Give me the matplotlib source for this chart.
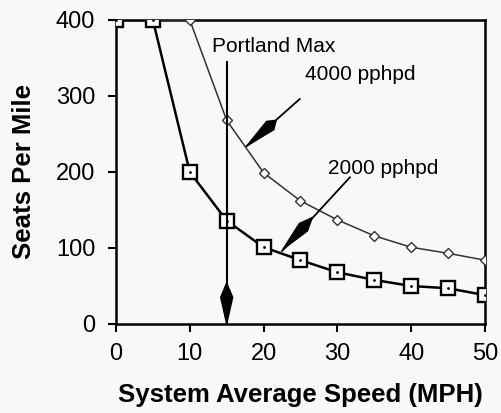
import matplotlib.pyplot as plt
from matplotlib.patches import Polygon

speed = [0, 5, 10, 15, 20, 25, 30, 35, 40, 45, 50]
seats_2000 = [400, 400, 200, 136, 101, 84, 68, 58, 50, 47, 38]
seats_4000 = [400, 400, 400, 268, 199, 162, 137, 116, 101, 93, 84]
portland_max = 15

bg = '#f7f8f7'
plt.rcParams['font.family'] = ['Liberation Sans', 'DejaVu Sans']

fig = plt.figure(figsize=(5.01, 4.13), dpi=100, facecolor=bg)
ax = fig.add_axes([0.2315, 0.2155, 0.7365, 0.7361], facecolor=bg)

ax.plot(speed, seats_4000, color='#333333', lw=1.1, ls='-', marker='D', ms=5.5,
        mfc='white', mec='#333333', mew=1.0, zorder=3)
ax.plot(speed, seats_2000, color='black', lw=1.8, marker='s', ms=10,
        mfc='white', mec='black', mew=1.7, zorder=4)
ax.plot(speed, seats_2000, ls='none', marker='.', ms=2, color='black', zorder=5)

ax.set_xlim(0, 50)
ax.set_ylim(0, 400)
ax.set_xticks(range(0, 51, 10))
ax.set_yticks(range(0, 401, 100))
ax.tick_params(direction='out', length=6, width=1.5, labelsize=17)
ax.tick_params(axis='x', pad=8)
ax.tick_params(axis='y', pad=9)
for s in ax.spines.values():
    s.set_linewidth(1.8)

ax.set_xlabel('System Average Speed (MPH)', fontsize=18.5, fontweight='bold', labelpad=13)
ax.set_ylabel('Seats Per Mile', fontsize=18.5, fontweight='bold', labelpad=14)


def kite(p_top, p_bot, width, pos=0.35):
    # elongated arrowhead between two points (data coords)
    (x0, y0), (x1, y1) = p_top, p_bot
    mx, my = x0 + (x1 - x0) * pos, y0 + (y1 - y0) * pos
    dx, dy = (x1 - x0) * 7.38, (y1 - y0) * 0.76
    n = (dx ** 2 + dy ** 2) ** 0.5
    px, py = -dy / n * width / 2, dx / n * width / 2
    pts = [(x0, y0), (mx + px / 7.38, my + py / 0.76), (x1, y1),
           (mx - px / 7.38, my - py / 0.76)]
    ax.add_patch(Polygon(pts, closed=True, fc='black', ec='black', zorder=6, clip_on=False))


# Portland Max vertical arrow
ax.plot([portland_max, portland_max], [345, 0], color='black', lw=1.5, zorder=6)
kite((portland_max, 54), (portland_max, 0), 12, 0.35)
ax.text(21.4, 365, 'Portland Max', fontsize=15, ha='center', va='center')

# 4000 pphpd label
ax.text(33.1, 328, '4000 pphpd', fontsize=15, ha='center', va='center')
ax.plot([24.9, 17.7], [296, 234], color='black', lw=1.3, zorder=6)
kite((21.7, 268), (17.7, 234), 11, 0.2)

# 2000 pphpd label
ax.text(36.2, 205, '2000 pphpd', fontsize=15, ha='center', va='center')
ax.plot([31.7, 22.5], [193, 96], color='black', lw=1.3, zorder=6)
kite((26.6, 140), (22.6, 98), 11, 0.3)

fig.savefig('out.png', dpi=100, facecolor=bg)
